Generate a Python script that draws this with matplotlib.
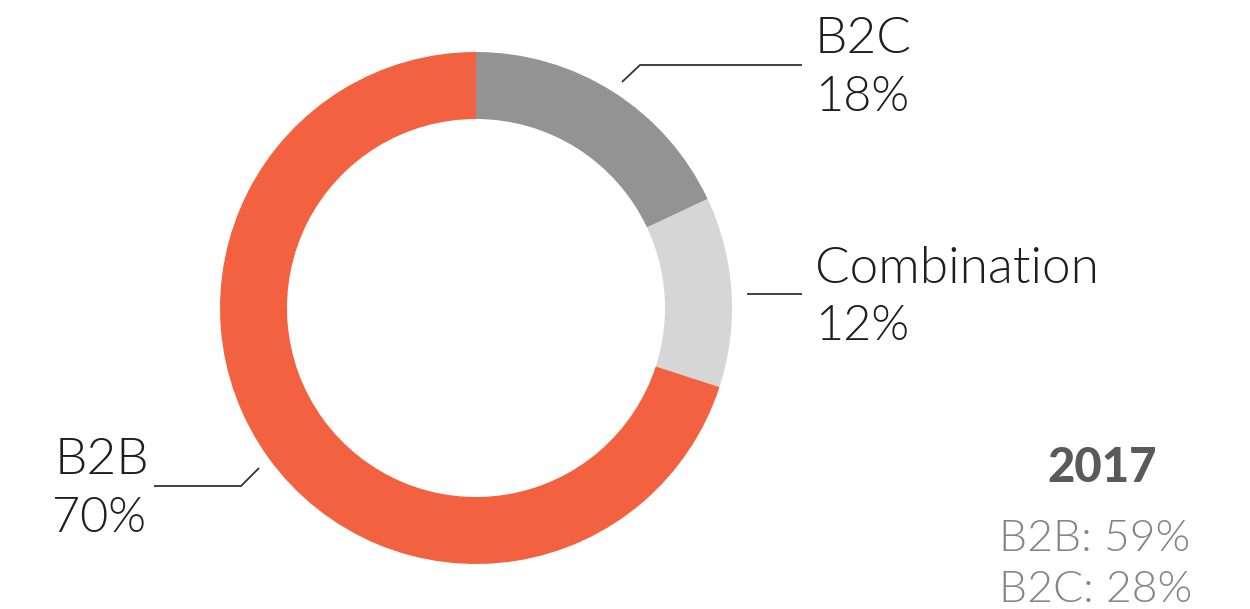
import matplotlib
matplotlib.use("Agg")
import matplotlib.pyplot as plt

categories = ["B2C", "Combination", "B2B"]
values = [18, 12, 70]
colors = ["#939393", "#d6d6d6", "#f26241"]
year_title = "2017"
year_lines = ["B2B: 59%", "B2C: 28%"]

W, H = 1250, 609
fig = plt.figure(figsize=(W / 100, H / 100), dpi=100)
ax = fig.add_axes([0, 0, 1, 1])

def Y(yp):
    return H - yp

ax.pie(values, startangle=90, counterclock=False, radius=256,
       center=(476, Y(308)), colors=colors,
       wedgeprops=dict(width=67, edgecolor="none", linewidth=0))
ax.set_xlim(0, W)
ax.set_ylim(0, H)
ax.set_aspect("equal")
ax.axis("off")

fam = ["Lato", "DejaVu Sans"]
lc = "#1e1e1e"

# leader lines
ax.plot([622, 640, 802], [Y(82), Y(65), Y(65)], color="#333333", lw=1.3, solid_capstyle="butt")
ax.plot([747, 802], [Y(294), Y(294)], color="#333333", lw=1.3, solid_capstyle="butt")
ax.plot([154, 241, 259], [Y(486), Y(486), Y(468)], color="#333333", lw=1.3, solid_capstyle="butt")

def lab(x, yb, s, fs, ha="left"):
    ax.text(x, Y(yb), s, ha=ha, va="baseline", fontsize=fs, family=fam,
            weight=300, color=lc)

lab(815, 53, categories[0], 37)
lab(815, 111, f"{values[0]}%", 35)
lab(815, 283, categories[1], 37)
lab(815, 340, f"{values[1]}%", 35)
lab(55, 474, categories[2], 37)
lab(52, 532, f"{values[2]}%", 35)

ax.text(1102, Y(482), year_title, ha="center", va="baseline", fontsize=34,
        family=fam, weight=900, color="#5a5a5a")
ax.text(999, Y(551), year_lines[0], ha="left", va="baseline", fontsize=32,
        family=fam, weight=300, color="#858585")
ax.text(999, Y(602), year_lines[1], ha="left", va="baseline", fontsize=32,
        family=fam, weight=300, color="#858585")

fig.savefig("out.png", dpi=100, facecolor="white")
